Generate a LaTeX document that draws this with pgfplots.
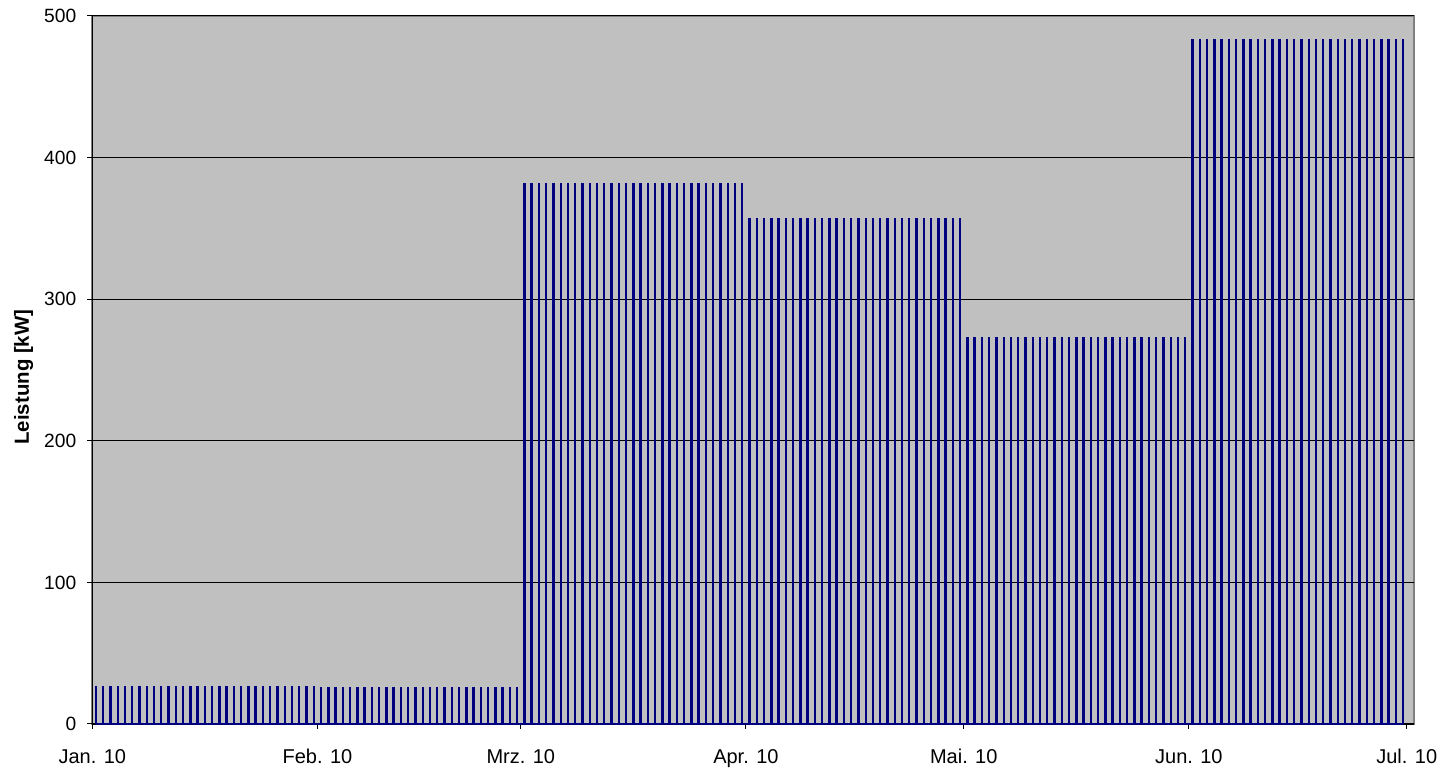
\documentclass[border=0pt]{standalone}
\usepackage{pgfplots}
\pgfplotsset{compat=1.18}
\usepackage{fontspec}
\setmainfont{Liberation Sans}
\definecolor{plotbg}{HTML}{C0C0C0}
\definecolor{barblue}{HTML}{000080}
\definecolor{framegray}{HTML}{808080}
\begin{document}
\begin{tikzpicture}
\useasboundingbox (-46.15pt,-22.5pt) rectangle (676.85pt,362pt);
\begin{axis}[
  at={(0,0)}, anchor=south west,
  scale only axis, width=660.85pt, height=354pt,
  xmin=-0.5, xmax=181.5, ymin=0, ymax=500,
  axis x line*=bottom, axis y line*=left,
  axis line style={black, line width=0.6pt},
  axis background/.style={fill=plotbg, draw=framegray, line width=0.8pt},
  xtick={-0.5,30.5,58.5,89.5,119.5,150.5,180.5},
  xticklabels={Jan. 10,Feb. 10,Mrz. 10,Apr. 10,Mai. 10,Jun. 10,Jul. 10},
  ytick={0,100,200,300,400,500},
  ymajorgrids, grid style={black, line width=0.5pt},
  tick align=outside, major tick length=2.5pt,
  tick style={black, line width=0.5pt},
  /pgf/number format/assume math mode=true,
  yticklabel style={font=\fontsize{9.6}{11}\selectfont, xshift=-2pt},
  xticklabel style={font=\fontsize{10}{12}\selectfont, yshift=-6.5pt},
  ylabel={Leistung [kW]},
  every axis y label/.style={at={(axis description cs:-0.052,0.49)}, rotate=90, anchor=center, font=\fontsize{10.2}{12}\selectfont\bfseries},
  clip=false,
]
\addplot[ycomb, barblue, line width=1.2pt, mark=none] coordinates {
(0,27) (1,27) (2,27) (3,27) (4,27) (5,27) (6,27) (7,27) (8,27) (9,27) (10,27) (11,27) (12,27) (13,27) (14,27) (15,27) (16,27) (17,27) (18,27) (19,27) (20,27) (21,27) (22,27) (23,27) (24,27) (25,27) (26,27) (27,27) (28,27) (29,27) (30,27)
(31,26) (32,26) (33,26) (34,26) (35,26) (36,26) (37,26) (38,26) (39,26) (40,26) (41,26) (42,26) (43,26) (44,26) (45,26) (46,26) (47,26) (48,26) (49,26) (50,26) (51,26) (52,26) (53,26) (54,26) (55,26) (56,26) (57,26) (58,26)
(59,382) (60,382) (61,382) (62,382) (63,382) (64,382) (65,382) (66,382) (67,382) (68,382) (69,382) (70,382) (71,382) (72,382) (73,382) (74,382) (75,382) (76,382) (77,382) (78,382) (79,382) (80,382) (81,382) (82,382) (83,382) (84,382) (85,382) (86,382) (87,382) (88,382) (89,382)
(90,357) (91,357) (92,357) (93,357) (94,357) (95,357) (96,357) (97,357) (98,357) (99,357) (100,357) (101,357) (102,357) (103,357) (104,357) (105,357) (106,357) (107,357) (108,357) (109,357) (110,357) (111,357) (112,357) (113,357) (114,357) (115,357) (116,357) (117,357) (118,357) (119,357)
(120,273.5) (121,273.5) (122,273.5) (123,273.5) (124,273.5) (125,273.5) (126,273.5) (127,273.5) (128,273.5) (129,273.5) (130,273.5) (131,273.5) (132,273.5) (133,273.5) (134,273.5) (135,273.5) (136,273.5) (137,273.5) (138,273.5) (139,273.5) (140,273.5) (141,273.5) (142,273.5) (143,273.5) (144,273.5) (145,273.5) (146,273.5) (147,273.5) (148,273.5) (149,273.5) (150,273.5)
(151,484) (152,484) (153,484) (154,484) (155,484) (156,484) (157,484) (158,484) (159,484) (160,484) (161,484) (162,484) (163,484) (164,484) (165,484) (166,484) (167,484) (168,484) (169,484) (170,484) (171,484) (172,484) (173,484) (174,484) (175,484) (176,484) (177,484) (178,484) (179,484) (180,484)
};
\addplot[barblue, line width=1.1pt, mark=none] coordinates {(0,0) (180,0)};
\end{axis}
\end{tikzpicture}
\end{document}
